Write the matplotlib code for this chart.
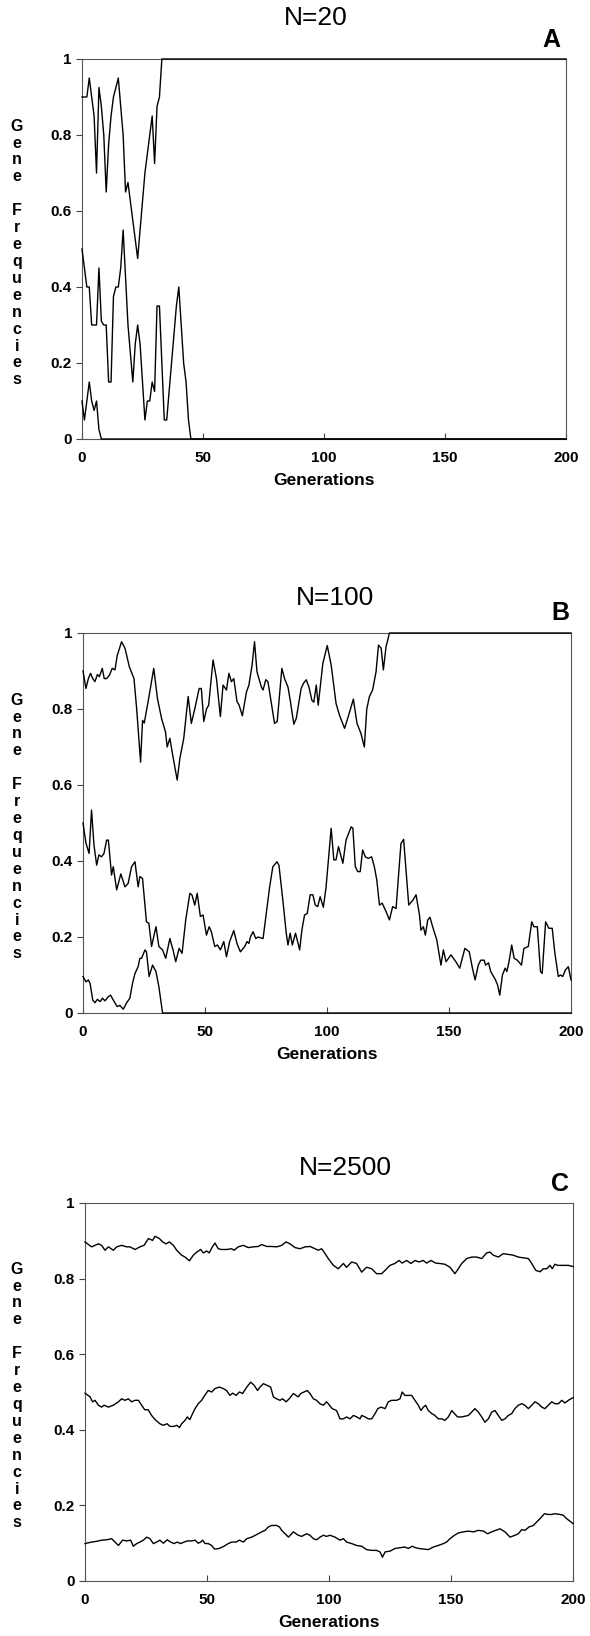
"""Gene-frequency drift in three population sizes (N=20, N=100, N=2500).

Three starting frequencies (0.9, 0.5, 0.1) followed for 200 generations.
Values were read off the printed figure by eye.
"""
import matplotlib
matplotlib.use("Agg")
import matplotlib.pyplot as plt
import numpy as np

plt.rcParams["font.family"] = ["Liberation Sans", "DejaVu Sans"]

END_GEN = 200
Y_TICKS = [0, 0.2, 0.4, 0.6, 0.8, 1]
Y_TICK_LABELS = ["0", "0.2", "0.4", "0.6", "0.8", "1"]
X_TICKS = [0, 50, 100, 150, 200]
X_TICK_LABELS = ["0", "50", "100", "150", "200"]

# ---- panel A, N=20: one value per generation from gen 0, last value is the absorbing state
A_TOP = [0.90, 0.90, 0.90, 0.95, 0.90, 0.85, 0.70, 0.925, 0.875, 0.80, 0.65,
         0.775, 0.85, 0.90, 0.925, 0.95, 0.875, 0.80, 0.65, 0.675, 0.625,
         0.575, 0.525, 0.475, 0.55, 0.625, 0.70, 0.75, 0.80, 0.85, 0.725,
         0.875, 0.90, 1.0]
A_MID = [0.50, 0.45, 0.40, 0.40, 0.30, 0.30, 0.30, 0.45, 0.31, 0.30, 0.30,
         0.15, 0.15, 0.375, 0.40, 0.40, 0.45, 0.55, 0.425, 0.30, 0.225,
         0.15, 0.25, 0.30, 0.25, 0.15, 0.05, 0.10, 0.10, 0.15, 0.125,
         0.35, 0.35, 0.20, 0.05, 0.05, 0.125, 0.20, 0.275, 0.35, 0.40,
         0.30, 0.20, 0.15, 0.05, 0.0]
A_LOW = [0.10, 0.05, 0.10, 0.15, 0.10, 0.075, 0.10, 0.025, 0.0]

# ---- panel B, N=100: (generation, frequency) vertices
B_TOP = [(0, 0.90), (1.2, 0.854), (2.2, 0.88), (3.1, 0.894), (4, 0.88),
         (4.9, 0.872), (5.9, 0.891), (6.7, 0.885), (7.9, 0.907), (8.7, 0.88),
         (9.7, 0.88), (10.8, 0.889), (12, 0.907), (13.1, 0.903), (14, 0.94),
         (15.8, 0.977), (17.2, 0.96), (19, 0.911), (20.9, 0.88), (22, 0.80),
         (23.6, 0.66), (24.4, 0.77), (25.1, 0.763), (26.7, 0.82), (29, 0.907),
         (30.5, 0.828), (32.2, 0.775), (33.8, 0.74), (34.5, 0.70), (35.6, 0.723),
         (37, 0.67), (38.6, 0.613), (39.7, 0.67), (41.3, 0.723), (43.1, 0.833),
         (44.4, 0.762), (45.8, 0.80), (47.6, 0.854), (48.5, 0.854), (49.5, 0.767),
         (50.6, 0.80), (51.5, 0.81), (53.3, 0.929), (54.7, 0.88), (56.3, 0.78),
         (57.4, 0.863), (58.8, 0.85), (59.8, 0.894), (60.8, 0.872), (61.8, 0.88),
         (63.1, 0.82), (64, 0.81), (65.3, 0.782), (67, 0.845), (68, 0.863),
         (69.3, 0.916), (70.3, 0.977), (71.3, 0.898), (73.1, 0.858), (73.8, 0.85),
         (74.9, 0.877), (75.8, 0.872), (77.2, 0.815), (78.5, 0.762), (79.6, 0.767),
         (81.5, 0.907), (82.6, 0.88), (84, 0.858), (85, 0.82), (86.4, 0.76),
         (87.4, 0.775), (89.4, 0.854), (90.4, 0.868), (91.5, 0.877), (92.6, 0.858),
         (93.8, 0.823), (94.6, 0.818), (95.6, 0.863), (96.4, 0.81), (98.3, 0.92),
         (100.1, 0.967), (101.7, 0.916), (103.7, 0.815), (105.1, 0.784),
         (107.2, 0.749), (108.9, 0.784), (110.8, 0.826), (112.3, 0.762),
         (113.9, 0.736), (115.3, 0.70), (116.3, 0.80), (117.4, 0.833),
         (118.7, 0.85), (120.1, 0.898), (121.1, 0.968), (122.2, 0.96),
         (123.1, 0.903), (124.2, 0.964), (125.6, 1.0), (200, 1.0)]
B_MID = [(0, 0.50), (1.2, 0.447), (2.5, 0.42), (3.5, 0.534), (4.5, 0.442),
         (5.6, 0.389), (6.5, 0.416), (7.6, 0.411), (8.6, 0.42), (9.7, 0.455),
         (10.4, 0.455), (11.7, 0.363), (12.4, 0.385), (13.8, 0.324), (15.5, 0.366),
         (17.2, 0.332), (18.5, 0.341), (19.9, 0.385), (21.3, 0.398), (22.6, 0.332),
         (23.3, 0.359), (24.4, 0.354), (26, 0.24), (27, 0.236), (28.1, 0.175),
         (29.9, 0.227), (31.1, 0.175), (32.6, 0.166), (33.9, 0.144), (35.6, 0.196),
         (36.9, 0.166), (38, 0.135), (39.4, 0.17), (40.6, 0.157), (42.1, 0.245),
         (43.8, 0.315), (44.7, 0.31), (45.8, 0.284), (46.8, 0.315), (48.1, 0.254),
         (49.2, 0.258), (50.6, 0.205), (51.7, 0.227), (52.6, 0.214), (54, 0.175),
         (55.1, 0.179), (56.3, 0.166), (57.7, 0.188), (58.8, 0.148), (60.1, 0.188),
         (61.8, 0.217), (63.1, 0.183), (64.5, 0.161), (66.3, 0.175), (67.2, 0.188),
         (68, 0.183), (68.6, 0.20), (69.7, 0.214), (70.8, 0.196), (71.7, 0.20),
         (73.8, 0.196), (75.1, 0.262), (76.5, 0.332), (77.8, 0.385), (79.5, 0.398),
         (80.3, 0.389), (81.9, 0.297), (83.3, 0.21), (84, 0.179), (84.9, 0.21),
         (85.8, 0.179), (87.1, 0.21), (88.8, 0.166), (89.7, 0.218), (90.8, 0.258),
         (91.9, 0.262), (93.1, 0.311), (94.2, 0.311), (95.2, 0.284), (96.2, 0.28),
         (97.2, 0.306), (98.5, 0.278), (99.6, 0.33), (101.7, 0.486), (102.8, 0.403),
         (103.7, 0.403), (104.7, 0.438), (106.5, 0.394), (107.8, 0.455),
         (109.9, 0.49), (110.6, 0.486), (111.6, 0.385), (112.6, 0.372),
         (113.6, 0.372), (114.6, 0.429), (115.7, 0.411), (116.9, 0.407),
         (118.3, 0.411), (119.4, 0.385), (120.4, 0.35), (121.5, 0.284),
         (122.6, 0.289), (124.2, 0.267), (125.6, 0.245), (126.9, 0.28),
         (128.3, 0.275), (130.3, 0.446), (131.4, 0.457), (132.4, 0.376),
         (133.5, 0.284), (135.2, 0.297), (136.5, 0.311), (137.9, 0.258),
         (138.5, 0.218), (139.5, 0.227), (140.3, 0.205), (141.3, 0.245),
         (142.2, 0.252), (143.3, 0.227), (145, 0.192), (146, 0.153), (146.7, 0.126),
         (147.7, 0.166), (148.8, 0.135), (150.8, 0.153), (152.8, 0.135),
         (154.4, 0.118), (156.5, 0.17), (158.3, 0.161), (159.6, 0.118),
         (160.7, 0.087), (162, 0.126), (163, 0.139), (164.4, 0.139), (165, 0.126),
         (166.2, 0.132), (167.1, 0.109), (168.9, 0.089), (169.9, 0.074),
         (170.8, 0.047), (171.9, 0.10), (173, 0.118), (173.7, 0.109),
         (174.6, 0.135), (175.7, 0.179), (176.7, 0.144), (178, 0.139),
         (179.7, 0.126), (180.7, 0.17), (182.5, 0.175), (183.9, 0.24),
         (184.8, 0.227), (186.2, 0.227), (187.5, 0.109), (188.2, 0.104),
         (189.6, 0.24), (190.9, 0.223), (192.3, 0.223), (193.4, 0.157),
         (194.8, 0.096), (195.7, 0.10), (196.6, 0.096), (197.7, 0.113),
         (198.9, 0.122), (200, 0.087)]
B_LOW = [(0, 0.096), (1.2, 0.082), (2.2, 0.087), (2.9, 0.078), (4, 0.034),
         (4.9, 0.027), (5.9, 0.036), (7, 0.03), (8, 0.039), (9, 0.032),
         (10.4, 0.043), (11.3, 0.047), (12.4, 0.034), (14, 0.017), (15.1, 0.02),
         (16.5, 0.01), (17.9, 0.027), (19.2, 0.039), (20.3, 0.078), (21.3, 0.104),
         (22.6, 0.122), (23.3, 0.144), (24, 0.144), (25.4, 0.166), (26, 0.161),
         (27.1, 0.096), (28.5, 0.126), (29.9, 0.109), (31.1, 0.069), (32.6, 0.0),
         (200, 0.0)]

# ---- panel C, N=2500: (generation, frequency) vertices
C_TOP = [(0, 0.897), (2.7, 0.884), (4.1, 0.888), (5.5, 0.892), (6.8, 0.888),
         (8.2, 0.875), (9.6, 0.884), (11.6, 0.875), (13, 0.884), (15, 0.888),
         (17.1, 0.884), (18.4, 0.884), (20.5, 0.877), (22.5, 0.884), (24.2, 0.888),
         (26, 0.906), (27.7, 0.901), (28.7, 0.912), (30.5, 0.906), (31.8, 0.897),
         (33.2, 0.892), (34.6, 0.897), (36.2, 0.888), (37.6, 0.875), (39.6, 0.862),
         (41, 0.857), (42.8, 0.847), (44.4, 0.862), (45.8, 0.87), (47.4, 0.877),
         (48.5, 0.868), (49.9, 0.873), (50.9, 0.868), (52.3, 0.885), (53.3, 0.894),
         (54.6, 0.879), (56, 0.877), (58, 0.877), (60.1, 0.879), (61.1, 0.875),
         (62.8, 0.884), (64.9, 0.888), (66.9, 0.882), (69, 0.884), (71, 0.885),
         (72.4, 0.89), (74.5, 0.885), (76.5, 0.885), (78.6, 0.884), (80.6, 0.888),
         (82.4, 0.897), (84, 0.892), (86.1, 0.882), (88.1, 0.879), (90.2, 0.884),
         (92.2, 0.885), (94.3, 0.879), (95.6, 0.875), (97, 0.879), (98.4, 0.866),
         (99.7, 0.853), (101.8, 0.835), (103.8, 0.826), (105.9, 0.84), (107.2, 0.83),
         (109.3, 0.844), (111.3, 0.84), (113.4, 0.817), (115.4, 0.83), (117.5, 0.826),
         (119.5, 0.813), (121.6, 0.813), (123, 0.822), (125, 0.835), (127, 0.84),
         (128.7, 0.848), (130, 0.841), (131.8, 0.848), (133.6, 0.84), (135.2, 0.848),
         (136.9, 0.844), (138.6, 0.848), (140, 0.841), (141.8, 0.848), (143.7, 0.841),
         (145.4, 0.84), (147.5, 0.838), (149.6, 0.83), (151.6, 0.813), (153, 0.826),
         (154.4, 0.84), (156.4, 0.853), (158.5, 0.857), (160.5, 0.857),
         (162.6, 0.853), (164.6, 0.868), (166, 0.87), (167.3, 0.862), (169.4, 0.857),
         (171.4, 0.866), (173.5, 0.864), (175.5, 0.862), (177.6, 0.857),
         (179.6, 0.855), (181.7, 0.853), (183.1, 0.84), (184.7, 0.822),
         (186.5, 0.818), (187.8, 0.826), (189.2, 0.826), (190.6, 0.835),
         (191.5, 0.826), (192.6, 0.838), (193.7, 0.835), (195.4, 0.835),
         (196.7, 0.835), (198.1, 0.835), (200, 0.832)]
C_MID = [(0, 0.497), (2.1, 0.487), (3.1, 0.474), (4.1, 0.478), (5.5, 0.465),
         (6.8, 0.46), (7.8, 0.465), (9.6, 0.46), (11.6, 0.465), (13.7, 0.474),
         (15, 0.482), (16.4, 0.478), (17.8, 0.482), (19.1, 0.474), (20.5, 0.478),
         (21.9, 0.478), (23.2, 0.465), (24.5, 0.453), (25.9, 0.453), (27.3, 0.438),
         (28.7, 0.427), (30.7, 0.416), (32.1, 0.412), (33.7, 0.416), (34.8, 0.409),
         (36.5, 0.409), (37.6, 0.412), (38.7, 0.406), (39.6, 0.416), (41, 0.425),
         (41.9, 0.434), (43, 0.427), (44.1, 0.443), (45.1, 0.456), (46.4, 0.469),
         (47.8, 0.478), (49.6, 0.496), (50.5, 0.504), (51.9, 0.50), (53.3, 0.509),
         (55, 0.513), (56.7, 0.509), (58, 0.504), (59.4, 0.491), (60.5, 0.497),
         (61.9, 0.491), (63.3, 0.50), (64.6, 0.496), (66.3, 0.513), (67.9, 0.526),
         (69.3, 0.518), (70.7, 0.504), (71.7, 0.513), (73.1, 0.522), (74.5, 0.518),
         (76.1, 0.513), (77.2, 0.487), (78.5, 0.482), (79.9, 0.478), (81, 0.482),
         (82.4, 0.474), (83.7, 0.482), (85.4, 0.496), (86.5, 0.491), (87.4, 0.487),
         (88.4, 0.496), (89.8, 0.50), (91.1, 0.504), (92.2, 0.496), (93.6, 0.482),
         (94.9, 0.478), (96.3, 0.469), (97.7, 0.465), (99, 0.474), (99.7, 0.469),
         (101.3, 0.456), (103.1, 0.451), (104.5, 0.429), (105.9, 0.429),
         (107.2, 0.434), (108.6, 0.429), (110, 0.438), (111.4, 0.434),
         (112.7, 0.429), (113.4, 0.438), (114.8, 0.434), (116.1, 0.429),
         (117.5, 0.429), (118.9, 0.443), (120, 0.456), (121.3, 0.46), (123, 0.456),
         (124.3, 0.474), (125.7, 0.478), (127.7, 0.478), (129.1, 0.482), (130, 0.50),
         (131.1, 0.491), (132.5, 0.491), (133.9, 0.491), (135.2, 0.478),
         (136.6, 0.465), (137.7, 0.451), (138.7, 0.46), (139.6, 0.465),
         (140.7, 0.451), (142.1, 0.443), (143.4, 0.438), (144.8, 0.429),
         (146.2, 0.429), (147.5, 0.425), (148.9, 0.434), (150.3, 0.451),
         (151.4, 0.443), (152.7, 0.434), (154.4, 0.434), (155.7, 0.436),
         (157.1, 0.438), (158.5, 0.447), (159.8, 0.456), (161.2, 0.447),
         (162.6, 0.434), (163.9, 0.42), (165.3, 0.429), (166.7, 0.447), (168, 0.451),
         (169.4, 0.438), (170.8, 0.425), (172.1, 0.429), (173.5, 0.438),
         (174.9, 0.443), (176.2, 0.456), (177.6, 0.465), (179, 0.469), (180.3, 0.465),
         (181.7, 0.456), (183.1, 0.465), (184.4, 0.474), (185.8, 0.469),
         (187.2, 0.46), (188.5, 0.456), (189.9, 0.465), (191.3, 0.474),
         (192.6, 0.469), (194, 0.469), (195.4, 0.478), (196.7, 0.471),
         (198.1, 0.478), (200, 0.485)]
C_LOW = [(0, 0.099), (2.7, 0.103), (4.8, 0.105), (6.8, 0.108), (8.9, 0.109),
         (10.9, 0.112), (12.3, 0.103), (13.7, 0.094), (15.4, 0.108), (17.1, 0.106),
         (18.7, 0.108), (19.8, 0.092), (21.2, 0.099), (22.5, 0.103), (23.9, 0.108),
         (25.3, 0.116), (26.6, 0.112), (28, 0.099), (29.4, 0.103), (30.7, 0.108),
         (32.1, 0.10), (33.7, 0.109), (35.1, 0.103), (36.5, 0.099), (37.8, 0.103),
         (39.2, 0.099), (40.6, 0.103), (41.9, 0.106), (43.7, 0.106), (45.1, 0.108),
         (46.4, 0.10), (47.4, 0.103), (48.2, 0.108), (49.2, 0.099), (50.5, 0.099),
         (51.9, 0.094), (53, 0.085), (54.2, 0.085), (55.3, 0.087), (57, 0.092),
         (58.7, 0.099), (60.1, 0.103), (61.9, 0.103), (63.3, 0.108), (64.9, 0.103),
         (66.3, 0.112), (68.3, 0.116), (70.4, 0.123), (72.4, 0.13), (73.8, 0.134),
         (75.1, 0.143), (76.5, 0.147), (78.5, 0.147), (79.7, 0.143), (80.6, 0.134),
         (82, 0.125), (83.4, 0.116), (85.4, 0.13), (87.4, 0.121), (88.8, 0.118),
         (90.8, 0.125), (92.2, 0.121), (93.6, 0.112), (94.9, 0.109), (96.3, 0.116),
         (97.7, 0.121), (99, 0.118), (100.4, 0.121), (102.5, 0.116), (104.5, 0.108),
         (105.9, 0.112), (107.2, 0.103), (109.3, 0.099), (111.3, 0.094),
         (113.4, 0.092), (115.4, 0.083), (117.5, 0.081), (119.5, 0.081),
         (120.9, 0.077), (121.9, 0.063), (123, 0.077), (125, 0.079), (127, 0.086),
         (129.1, 0.088), (131.1, 0.09), (132.5, 0.086), (134.1, 0.092),
         (135.5, 0.088), (136.9, 0.086), (140.7, 0.083), (142.8, 0.09),
         (144.8, 0.094), (146.9, 0.099), (148.2, 0.103), (149.6, 0.112),
         (151.4, 0.121), (153, 0.127), (155.1, 0.13), (157.1, 0.132), (159.2, 0.13),
         (161.2, 0.134), (163.3, 0.132), (165, 0.125), (166.7, 0.13), (168.3, 0.134),
         (170.1, 0.138), (172.1, 0.13), (174.2, 0.116), (176.2, 0.121),
         (177.6, 0.125), (179, 0.136), (180.3, 0.134), (182, 0.143), (183.8, 0.147),
         (185.1, 0.156), (186.5, 0.165), (188.3, 0.178), (189.9, 0.176),
         (191.3, 0.176), (192.6, 0.178), (194.7, 0.176), (196, 0.174),
         (197.4, 0.165), (200, 0.152)]

W, H = 590, 1636


def per_gen(vals):
    # one value per generation, then held at the absorbing state out to END_GEN
    g = np.r_[np.arange(len(vals)), END_GEN]
    return g, np.r_[vals, vals[-1]]


def pairs(p):
    a = np.array(p)
    return a[:, 0], a[:, 1]


# (title, letter, series, axes box in px: left, top, right, bottom,
#  title centre px, letter centre px)
PANELS = [
    ("N=20", "A", [per_gen(A_TOP), per_gen(A_MID), per_gen(A_LOW)],
     (82, 59, 566, 439), (316, 18), (551, 40)),
    ("N=100", "B", [pairs(B_TOP), pairs(B_MID), pairs(B_LOW)],
     (83, 633, 571, 1013), (335, 598), (560, 613)),
    ("N=2500", "C", [pairs(C_TOP), pairs(C_MID), pairs(C_LOW)],
     (85, 1203, 573, 1581), (345, 1168), (560, 1184)),
]

fig = plt.figure(figsize=(W / 100, H / 100), dpi=100)
ylab = "\n".join("Gene") + "\n\n" + "\n".join("Frequencies")

for title, letter, series, (l, t, r, b), (tx, ty), (lx, ly) in PANELS:
    ax = fig.add_axes([l / W, 1 - b / H, (r - l) / W, (b - t) / H])
    for g, f in series:
        ax.plot(g, f, color="black", lw=1.0, clip_on=False, zorder=3)
    ax.set_xlim(0, END_GEN)
    ax.set_ylim(0, 1)
    ax.set_xticks(X_TICKS)
    ax.set_xticklabels(X_TICK_LABELS, fontweight="bold", fontsize=11)
    ax.set_yticks(Y_TICKS)
    ax.set_yticklabels(Y_TICK_LABELS, fontweight="bold", fontsize=11)
    ax.tick_params(axis="x", direction="in", length=4, width=0.8, pad=8.5,
                   color="#444")
    ax.tick_params(axis="y", direction="out", length=4.5, width=0.8, pad=3,
                   color="#444")
    for s in ax.spines.values():
        s.set_linewidth(0.8)
        s.set_color("#555")
    ax.set_xlabel("Generations", fontweight="bold", fontsize=12.5, labelpad=6)
    fig.text(tx / W, 1 - ty / H, title, ha="center", va="center", fontsize=19)
    fig.text(lx / W, 1 - ly / H, letter, ha="center", va="center",
             fontsize=18, fontweight="bold")
    fig.text(17 / W, 1 - ((t + b) / 2 + 4) / H, ylab, ha="center", va="center",
             multialignment="center", fontweight="bold", fontsize=11.5,
             linespacing=1.16)

fig.savefig("out.png", dpi=100)
